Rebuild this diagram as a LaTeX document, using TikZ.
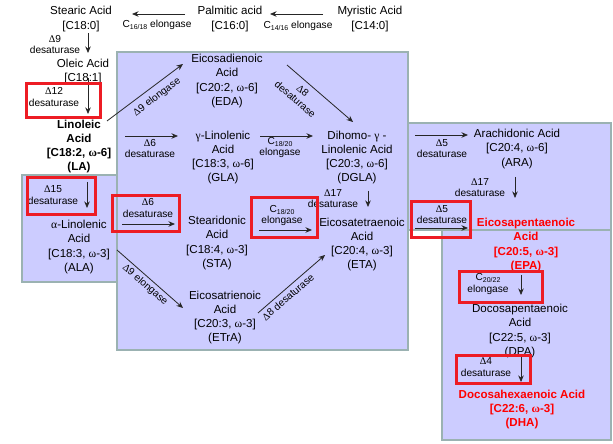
\documentclass[tikz,border=0pt]{standalone}
\usepackage{fontspec}
\setmainfont{Liberation Sans}
\newfontfamily\grk{Liberation Serif}
\usetikzlibrary{arrows.meta}
\definecolor{lav}{RGB}{204,204,255}
\definecolor{bord}{RGB}{155,178,178}
\definecolor{rbox}{RGB}{237,28,36}
\definecolor{rtxt}{RGB}{255,0,0}
\newcommand{\Dl}{{\grk Δ}}
\newcommand{\om}{{\grk ω}}
\newcommand{\alp}{{\grk α}}
\newcommand{\gam}{{\grk γ}}
\newcommand{\sbs}[1]{\raisebox{-0.35ex}{\fontsize{7}{7}\selectfont #1}}
\begin{document}
\begin{tikzpicture}[x=1bp,y=-1bp,
  acid/.style={align=center,inner sep=0pt,font=\fontsize{11.6}{14.3}\selectfont},
  bacid/.style={acid,font=\fontsize{11.6}{14.3}\selectfont\bfseries},
  racid/.style={bacid,text=rtxt},
  enz/.style={align=center,inner sep=0pt,font=\fontsize{10.2}{11.5}\selectfont},
  panel/.style={draw=bord,fill=lav,line width=2bp},
  hl/.style={draw=rbox,line width=3bp},
  conv/.style={-{Stealth[length=6.5bp,width=5.5bp]},line width=0.8bp,black!85}]
\useasboundingbox (0,0) rectangle (613,444);
% panels
\draw[panel] (117,52) rectangle (408,350);
\draw[panel] (22,175) rectangle (117,282);
\draw[panel] (408,123) rectangle (611,230);
\draw[panel] (442,230) rectangle (611,440);
% acids
\node[acid] (stearic) at (81,19) {Stearic Acid\\{}[C18:0]};
\node[acid] (palmitic) at (230,19) {Palmitic acid\\{}[C16:0]};
\node[acid] (myristic) at (370,19) {Myristic Acid\\{}[C14:0]};
\node[acid] (oleic) at (83,71.5) {Oleic Acid\\{}[C18:1]};
\node[bacid] (la) at (79,146.5) {Linoleic\\Acid\\{}[C18:2, \om-6]\\(LA)};
\node[acid] (eda) at (227,81) {Eicosadienoic\\Acid\\{}[C20:2, \om-6]\\(EDA)};
\node[acid] (gla) at (223,157.5) {\gam-Linolenic\\Acid\\{}[C18:3, \om-6]\\(GLA)};
\node[acid] (dgla) at (357,157.5) {Dihomo- \gam\ -\\Linolenic Acid\\{}[C20:3, \om-6]\\(DGLA)};
\node[acid] (ara) at (517,149) {Arachidonic Acid\\{}[C20:4, \om-6]\\(ARA)};
\node[acid] (ala) at (79,247) {\alp-Linolenic\\Acid\\{}[C18:3, \om-3]\\(ALA)};
\node[acid] (sta) at (217,243) {Stearidonic\\Acid\\{}[C18:4, \om-3]\\(STA)};
\node[acid] (eta) at (362,244.5) {Eicosatetraenoic\\Acid\\{}[C20:4, \om-3]\\(ETA)};
\node[acid] (etra) at (225,317.5) {Eicosatrienoic\\Acid\\{}[C20:3, \om-3]\\(ETrA)};
\node[racid] (epa) at (526,245) {Eicosapentaenoic\\Acid\\{}[C20:5, \om-3]\\(EPA)};
\node[acid] (dpa) at (520,331) {Docosapentaenoic\\Acid\\{}[C22:5, \om-3]\\(DPA)};
\node[racid] (dha) at (522,409.5) {Docosahexaenoic Acid\\{}[C22:6, \om-3]\\(DHA)};
% enzyme labels
\node[enz] (e1) at (298,26) {C\sbs{14/16} elongase};
\node[enz] (e2) at (157,25) {C\sbs{16/18} elongase};
\node[enz] (e3) at (55,44.5) {\Dl9\\desaturase};
\node[enz] (e4) at (54,97) {\Dl12\\desaturase};
\node[enz,rotate=37] (e5) at (157,97) {\Dl9 elongase};
\node[enz] (e6) at (150,148.5) {\Dl6\\desaturase};
\node[enz,rotate=-41] (e7) at (299,95) {\Dl8\\desaturase};
\node[enz] (e8) at (280,147.5) {C\sbs{18/20}\\elongase};
\node[enz] (e9) at (333,198.5) {\Dl17\\desaturase};
\node[enz] (e10) at (442,148.5) {\Dl5\\desaturase};
\node[enz] (e11) at (480,187.5) {\Dl17\\desaturase};
\node[enz] (e12) at (442,214.5) {\Dl5\\desaturase};
\node[enz] (e13) at (53,195) {\Dl15\\desaturase};
\node[enz] (e14) at (148,208) {\Dl6\\desaturase};
\node[enz,rotate=-41] (e15) at (145,285) {\Dl9 elongase};
\node[enz] (e16) at (282,215.5) {C\sbs{18/20}\\elongase};
\node[enz,rotate=41] (e17) at (288,297) {\Dl8 desaturase};
\node[enz] (e18) at (488,284) {C\sbs{20/22}\\elongase};
\node[enz] (e19) at (486,367) {\Dl4\\desaturase};
% connector end points
\coordinate (a1s) at (323,14); \coordinate (a1e) at (270,14);
\coordinate (a2s) at (185,14); \coordinate (a2e) at (132,14);
\coordinate (a3s) at (88,33);  \coordinate (a3e) at (88,53);
\coordinate (a4s) at (88,78);  \coordinate (a4e) at (88,114);
\coordinate (a5s) at (107,121); \coordinate (a5e) at (183,64);
\coordinate (a6s) at (125,136); \coordinate (a6e) at (178,136);
\coordinate (a7s) at (287,65); \coordinate (a7e) at (353,122);
\coordinate (a8s) at (260,136); \coordinate (a8e) at (313,136);
\coordinate (a9s) at (368,191); \coordinate (a9e) at (368,207);
\coordinate (a10s) at (415,135); \coordinate (a10e) at (468,135);
\coordinate (a11s) at (515,177); \coordinate (a11e) at (515,198);
\coordinate (a12s) at (415,228); \coordinate (a12e) at (468,228);
\coordinate (a13s) at (87,182); \coordinate (a13e) at (87,208);
\coordinate (a14s) at (122,224); \coordinate (a14e) at (175,224);
\coordinate (a15s) at (117,250); \coordinate (a15e) at (183,308);
\coordinate (a16s) at (259,230); \coordinate (a16e) at (312,230);
\coordinate (a17s) at (258,313); \coordinate (a17e) at (325,255);
\coordinate (a18s) at (521,275); \coordinate (a18e) at (521,295);
\coordinate (a19s) at (521,357); \coordinate (a19e) at (521,382);
\foreach \i in {1,...,19}{\draw[conv] (a\i s) -- (a\i e);}
% highlight boxes
\draw[hl] (26,84) rectangle (100,118);
\draw[hl] (27,178) rectangle (95,215);
\draw[hl] (112,196) rectangle (179,232);
\draw[hl] (251,198) rectangle (317,238);
\draw[hl] (411,202) rectangle (470,238);
\draw[hl] (459,272) rectangle (542,302);
\draw[hl] (456,355) rectangle (530,383);
\end{tikzpicture}
\end{document}
